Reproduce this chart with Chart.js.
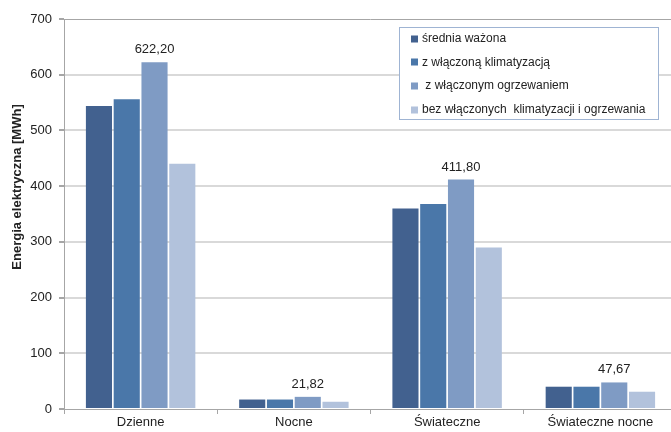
<!DOCTYPE html>
<html>
<head>
<meta charset="utf-8">
<script src="https://cdn.jsdelivr.net/npm/chart.js@4"></script>
<style>
html,body{margin:0;padding:0;background:#fff;overflow:hidden;width:671px;height:432px;}
#wrap{width:671px;height:432px;overflow:hidden;position:relative;}
canvas{display:block;}
</style>
</head>
<body>
<div id="wrap"><canvas id="c" width="677" height="432"></canvas></div>
<script>
const categories = ['Dzienne', 'Nocne', 'Świateczne', 'Świateczne nocne'];
const seriesLabels = ['średnia ważona', 'z włączoną klimatyzacją', ' z włączonym ogrzewaniem', 'bez włączonych  klimatyzacji i ogrzewania'];
const sredniaWazona = [544, 17, 360, 40];
const zKlimatyzacja = [556, 17, 368, 40];
const zOgrzewaniem = [622.20, 21.82, 411.80, 47.67];
const bezKlimIOgrz = [440, 13, 290, 31];
const yTicks = [0, 100, 200, 300, 400, 500, 600, 700];
const yTitle = 'Energia elektryczna [MWh]';
const labeledSeries = 2;

const FONT = "'Liberation Sans', Arial, sans-serif";
const colors = ['#42618f', '#4a77a9', '#7f9bc4', '#b2c2dc'];
const seriesData = [sredniaWazona, zKlimatyzacja, zOgrzewaniem, bezKlimIOgrz];

const datasets = seriesData.map((d, i) => ({
  label: seriesLabels[i],
  data: d,
  backgroundColor: colors[i],
  borderWidth: 0,
  categoryPercentage: 0.725,
  barPercentage: 0.94
}));

const valueLabels = {
  id: 'valueLabels',
  afterDatasetsDraw(chart) {
    const ctx = chart.ctx;
    const meta = chart.getDatasetMeta(labeledSeries);
    ctx.save();
    ctx.font = '13px ' + FONT;
    ctx.fillStyle = '#222';
    ctx.textAlign = 'center';
    ctx.textBaseline = 'alphabetic';
    meta.data.forEach((bar, i) => {
      const v = chart.data.datasets[labeledSeries].data[i];
      const txt = v.toFixed(2).replace('.', ',');
      ctx.fillText(txt, bar.x, bar.y - 9);
    });
    ctx.restore();
  }
};

const yAxisTitle = {
  id: 'yAxisTitle',
  afterDraw(chart) {
    const ctx = chart.ctx;
    ctx.save();
    ctx.translate(17, 187);
    ctx.rotate(-Math.PI / 2);
    ctx.font = 'bold 13px ' + FONT;
    ctx.fillStyle = '#222';
    ctx.textAlign = 'center';
    ctx.textBaseline = 'middle';
    ctx.fillText(yTitle, 0, 0);
    ctx.restore();
  }
};

const boxLegend = {
  id: 'boxLegend',
  afterDraw(chart) {
    const ctx = chart.ctx;
    const x = 399.5, y = 27.5, w = 259, h = 92;
    ctx.save();
    ctx.fillStyle = '#fff';
    ctx.fillRect(x, y, w, h);
    ctx.strokeStyle = '#9fb4d3';
    ctx.lineWidth = 1;
    ctx.strokeRect(x, y, w, h);
    ctx.font = '12px ' + FONT;
    ctx.textBaseline = 'middle';
    ctx.textAlign = 'left';
    chart.data.datasets.forEach((ds, i) => {
      const cy = 38.5 + i * 23.7;
      ctx.fillStyle = ds.backgroundColor;
      ctx.fillRect(411, Math.round(cy) - 3.5, 7, 7);
      ctx.fillStyle = '#222';
      ctx.fillText(ds.label, 422, cy);
    });
    ctx.restore();
  }
};

const topLine = {
  id: 'topLine',
  beforeDatasetsDraw(chart) {
    const a = chart.chartArea;
    const ctx = chart.ctx;
    ctx.save();
    ctx.strokeStyle = '#a6a6a6';
    ctx.lineWidth = 1;
    ctx.beginPath();
    ctx.moveTo(a.left, Math.round(a.top) + 0.5);
    ctx.lineTo(a.right, Math.round(a.top) + 0.5);
    ctx.stroke();
    ctx.restore();
  }
};

new Chart(document.getElementById('c'), {
  type: 'bar',
  data: { labels: categories, datasets },
  options: {
    responsive: false,
    animation: false,
    layout: { padding: { top: 19, right: 0, left: 0, bottom: 0 } },
    plugins: {
      legend: { display: false },
      tooltip: { enabled: false }
    },
    scales: {
      x: {
        grid: {
          display: true,
          drawOnChartArea: false,
          drawTicks: true,
          tickLength: 5,
          offset: true,
          color: '#a6a6a6',
          tickColor: '#a6a6a6'
        },
        border: { display: true, color: '#a6a6a6', width: 1 },
        ticks: { color: '#222', font: { family: FONT, size: 13 }, padding: 1 },
        afterFit(scale) { scale.height = 23; }
      },
      y: {
        min: 0,
        max: 700,
        afterBuildTicks(scale) { scale.ticks = yTicks.map(v => ({ value: v })); },
        grid: {
          color: (c) => (c.tick && (c.tick.value === 0 || c.tick.value === 700)) ? 'rgba(0,0,0,0)' : '#d9d9d9',
          lineWidth: 2,
          tickLength: 5,
          tickColor: '#a6a6a6'
        },
        border: { display: true, color: '#a6a6a6', width: 1 },
        ticks: { color: '#222', font: { family: FONT, size: 13 }, padding: 7 },
        title: { display: false },
        afterFit(scale) { scale.width = 64; }
      }
    }
  },
  plugins: [topLine, valueLabels, boxLegend, yAxisTitle]
});
</script>
</body>
</html>
